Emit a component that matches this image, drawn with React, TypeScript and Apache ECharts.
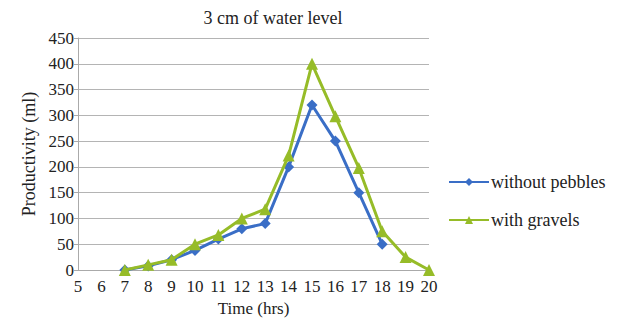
import React, { useEffect, useRef } from "react";
import * as echarts from "echarts";

const hours = [7, 8, 9, 10, 11, 12, 13, 14, 15, 16, 17, 18, 19, 20];
const withoutPebbles = [0, 8, 20, 38, 60, 80, 90, 200, 320, 250, 150, 50];
const withGravels = [0, 10, 20, 50, 68, 100, 118, 222, 400, 298, 198, 75, 25, 0];
const seriesNames = ["without pebbles", "with gravels"];
const titleText = "3 cm of water level";
const xName = "Time (hrs)";
const yName = "Productivity (ml)";

const FONT = "Liberation Serif";
const BLUE = "#3A6EC6";
const GREEN = "#96BC28";
const FS = 17;

export default function App() {
  const ref = useRef<HTMLDivElement>(null);
  useEffect(() => {
    if (!ref.current) return;
    const chart = echarts.init(ref.current, null, { renderer: "svg" });
    chart.setOption({
      animation: false,
      backgroundColor: "#ffffff",
      textStyle: { fontFamily: FONT, color: "#222" },
      title: {
        text: titleText,
        left: 268,
        top: 4,
        textAlign: "center",
        textStyle: { fontFamily: FONT, fontSize: 18, fontWeight: "normal", color: "#222" },
      },
      legend: {
        orient: "vertical",
        left: 443,
        top: 168,
        itemGap: 20,
        itemWidth: 40,
        itemHeight: 10,
        textStyle: { fontFamily: FONT, fontSize: 18, color: "#222", padding: [0, 0, 0, -3] },
        data: seriesNames,
      },
      grid: { left: 78, right: 197, top: 38, bottom: 48, outerBoundsMode: "none", containLabel: false },
      xAxis: {
        type: "value",
        min: 5,
        max: 20,
        interval: 1,
        name: xName,
        nameLocation: "middle",
        nameGap: 27,
        nameTextStyle: { fontFamily: FONT, fontSize: FS, color: "#222" },
        axisLine: { show: true, lineStyle: { color: "#aaa", width: 1 } },
        axisTick: { show: false },
        splitLine: { show: false },
        axisLabel: { fontFamily: FONT, fontSize: FS, color: "#222", margin: 8 },
      },
      yAxis: {
        type: "value",
        min: 0,
        max: 450,
        interval: 50,
        name: yName,
        nameLocation: "middle",
        nameGap: 37,
        nameRotate: 90,
        nameTextStyle: { fontFamily: FONT, fontSize: 18, color: "#222" },
        axisLine: { show: true, lineStyle: { color: "#aaa", width: 1 } },
        axisTick: { show: true, length: 4, lineStyle: { color: "#aaa" } },
        splitLine: { show: true, lineStyle: { color: "#b4b4b4", width: 1 } },
        axisLabel: { fontFamily: FONT, fontSize: FS, color: "#222", margin: 4 },
      },
      series: [
        {
          name: seriesNames[0],
          type: "line",
          data: withoutPebbles.map((v, i) => [hours[i], v]),
          symbol: "diamond",
          symbolSize: 11,
          lineStyle: { color: BLUE, width: 3 },
          itemStyle: { color: BLUE },
          z: 2,
        },
        {
          name: seriesNames[1],
          type: "line",
          data: withGravels.map((v, i) => [hours[i], v]),
          symbol: "triangle",
          symbolSize: 12,
          lineStyle: { color: GREEN, width: 3 },
          itemStyle: { color: GREEN },
          z: 3,
        },
      ],
    });
    return () => chart.dispose();
  }, []);
  return (
    <div
      ref={ref}
      style={{ position: "fixed", left: 0, top: 0, width: 626, height: 318 }}
    />
  );
}
